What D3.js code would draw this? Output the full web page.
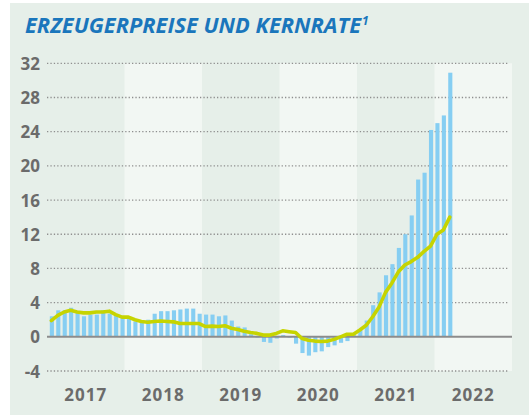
<!DOCTYPE html>
<html>
<head>
<meta charset="utf-8">
<script src="https://cdn.jsdelivr.net/npm/d3@7"></script>
<style>
  html, body { margin: 0; padding: 0; background: #ffffff; }
  svg { display: block; }
</style>
</head>
<body>
<svg id="chart" width="529" height="415"></svg>
<script>
// Year bands on the x axis
const years = [2017, 2018, 2019, 2020, 2021, 2022];
const monthsPerYear = 12;

// Erzeugerpreise, Veränderung gegenüber Vorjahr in % (Jan 2017 – Mär 2022)
const producerPrices = [
  2.4, 3.1, 3.1, 3.4, 2.8, 2.4, 2.6, 2.6, 3.1, 2.7, 2.5, 2.3,
  2.1, 1.8, 1.9, 2.0, 2.7, 3.0, 3.0, 3.1, 3.2, 3.3, 3.3, 2.7,
  2.6, 2.6, 2.4, 2.5, 1.9, 1.2, 1.1, 0.3, -0.1, -0.6, -0.7, -0.2,
  0.2, -0.1, -0.8, -1.9, -2.2, -1.8, -1.7, -1.2, -1.0, -0.7, -0.5, 0.2,
  0.9, 1.9, 3.7, 5.2, 7.2, 8.5, 10.4, 12.0, 14.2, 18.4, 19.2, 24.2,
  25.0, 25.9, 30.9
];

// Kernrate (ohne Energie), Veränderung gegenüber Vorjahr in %
const coreRate = [
  1.9, 2.5, 2.9, 3.1, 2.9, 2.8, 2.8, 2.9, 2.9, 3.0, 2.6, 2.3,
  2.3, 2.0, 1.8, 1.7, 1.8, 1.85, 1.8, 1.75, 1.55, 1.55, 1.55, 1.55,
  1.2, 1.25, 1.2, 1.3, 1.0, 0.85, 0.65, 0.5, 0.4, 0.2, 0.2, 0.4,
  0.7, 0.6, 0.5, -0.2, -0.4, -0.5, -0.55, -0.5, -0.3, 0.0, 0.3, 0.3,
  0.8, 1.35, 2.35, 3.5, 5.2, 6.3, 7.6, 8.4, 8.8, 9.3, 10.0, 10.6,
  12.0, 12.5, 14.0
];

// Y axis ticks
const yTicks = [-4, 0, 4, 8, 12, 16, 20, 24, 28, 32];

// One category per month across all year bands
const months = years.flatMap(y => d3.range(1, monthsPerYear + 1).map(m => `${y}-${String(m).padStart(2, "0")}`));

const W = 529, H = 415;
const plot = { left: 47, right: 512, top: 63.3, bottom: 371 };

const svg = d3.select("#chart");

// Panel background
svg.append("rect")
  .attr("x", 10).attr("y", 3)
  .attr("width", W - 10).attr("height", H - 3)
  .attr("fill", "#e6efe9");

const xYear = d3.scaleLinear()
  .domain([years[0], years[years.length - 1] + 1])
  .range([plot.left, plot.right]);

const xMonth = d3.scaleBand()
  .domain(months)
  .range([plot.left, plot.right])
  .padding(0.36);

const y = d3.scaleLinear()
  .domain([yTicks[0], yTicks[yTicks.length - 1]])
  .range([plot.bottom, plot.top]);

// Alternating year bands
svg.append("g").selectAll("rect")
  .data(years)
  .join("rect")
  .attr("x", d => xYear(d))
  .attr("y", y(32))
  .attr("width", d => xYear(d + 1) - xYear(d))
  .attr("height", y(-4) - y(32))
  .attr("fill", (d, i) => i % 2 === 1 ? "#f2f7f3" : "#e6efe9");

// Dotted grid lines
svg.append("g").selectAll("line")
  .data(yTicks.filter(t => t !== 0))
  .join("line")
  .attr("x1", plot.left).attr("x2", plot.right - 3)
  .attr("y1", d => y(d)).attr("y2", d => y(d))
  .attr("stroke", "#8f8f8f")
  .attr("stroke-width", 1.3)
  .attr("stroke-dasharray", "1.3,2.1");

// Y axis labels
const yAxis = d3.axisLeft(y).tickValues(yTicks).tickSize(0).tickPadding(0)
  .tickFormat(d => d < 0 ? "-" + Math.abs(d) : d);
const gy = svg.append("g").attr("transform", `translate(40,0)`).call(yAxis);
gy.select(".domain").remove();
gy.selectAll("text")
  .attr("font-family", "'Open Sans', sans-serif")
  .attr("font-weight", 700)
  .attr("font-size", 17)
  .attr("fill", "#6b6b6b")
  .attr("dy", "0.36em");

// Producer price bars
const monthIndex = i => months[i];
svg.append("g").selectAll("rect")
  .data(producerPrices)
  .join("rect")
  .attr("x", (d, i) => xMonth(monthIndex(i)) + 0.5)
  .attr("width", xMonth.bandwidth())
  .attr("y", d => y(Math.max(0, d)))
  .attr("height", d => Math.abs(y(d) - y(0)))
  .attr("fill", "#86cef2");

// Zero line
svg.append("line")
  .attr("x1", plot.left).attr("x2", plot.right)
  .attr("y1", y(0)).attr("y2", y(0))
  .attr("stroke", "#8c8c8c")
  .attr("stroke-width", 2);

// Core rate line
const line = d3.line()
  .x((d, i) => xMonth(monthIndex(i)) + xMonth.bandwidth() / 2)
  .y(d => y(d));
svg.append("path")
  .datum(coreRate)
  .attr("d", line)
  .attr("fill", "none")
  .attr("stroke", "#c6d400")
  .attr("stroke-width", 3.6)
  .attr("stroke-linejoin", "round")
  .attr("stroke-linecap", "round");

// Year labels
svg.append("g").selectAll("text")
  .data(years)
  .join("text")
  .attr("x", d => (xYear(d) + xYear(d + 1)) / 2)
  .attr("y", 400.5)
  .attr("text-anchor", "middle")
  .attr("font-family", "'Open Sans', sans-serif")
  .attr("font-weight", 700)
  .attr("font-size", 17)
  .attr("letter-spacing", 1)
  .attr("fill", "#6b6b6b")
  .text(d => d);

// Title
const title = svg.append("text")
  .attr("x", 25).attr("y", 33.3)
  .attr("font-family", "'Open Sans', sans-serif")
  .attr("font-weight", 700)
  .attr("font-style", "italic")
  .attr("font-size", 20.5)
  .attr("fill", "#1a76bc");
title.append("tspan")
  .attr("textLength", 336)
  .attr("lengthAdjust", "spacingAndGlyphs")
  .text("ERZEUGERPREISE UND KERNRATE");
title.append("tspan")
  .attr("dx", 1)
  .attr("dy", -8)
  .attr("font-size", 12)
  .text("1");
</script>
</body>
</html>
